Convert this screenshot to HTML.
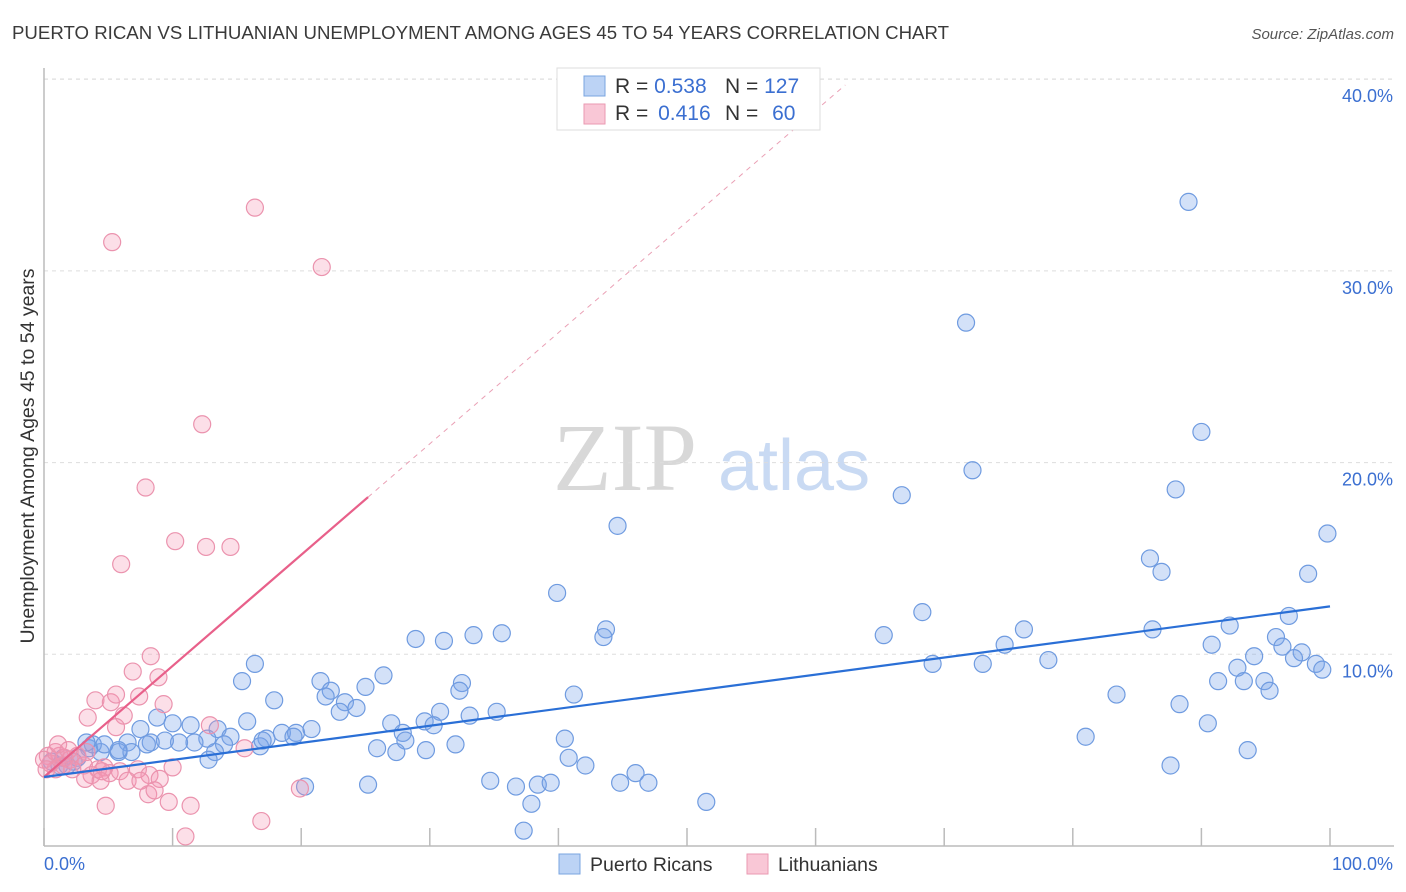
<!DOCTYPE html>
<html><head><meta charset="utf-8"><style>
body{margin:0;background:#fff;font-family:"Liberation Sans",sans-serif;}
svg{display:block}
</style></head><body>
<svg id="chart" width="1406" height="892" xmlns="http://www.w3.org/2000/svg">
<text x="12" y="39" font-size="18.6" fill="#3a3a3a" textLength="937" lengthAdjust="spacingAndGlyphs">PUERTO RICAN VS LITHUANIAN UNEMPLOYMENT AMONG AGES 45 TO 54 YEARS CORRELATION CHART</text>
<text x="1394" y="39" font-size="15" font-style="italic" fill="#555" text-anchor="end">Source: ZipAtlas.com</text>
<g>
<text x="553" y="490" font-family="Liberation Serif,serif" font-size="96" fill="#d8d8d8">ZIP</text>
<text x="718" y="490" font-size="72" fill="#c9daf3">atlas</text>
</g>
<g id="grid"></g>
<g id="axes"></g>
<g id="marks"></g>
<text transform="translate(34,456) rotate(-90)" font-size="19.5" fill="#333" text-anchor="middle">Unemployment Among Ages 45 to 54 years</text>
<g>
<rect x="557" y="68" width="263" height="62" fill="#fff" stroke="#ddd"/>
<rect x="584" y="76" width="21" height="20" fill="#bcd3f5" stroke="#7aa4e0"/>
<rect x="584" y="104" width="21" height="20" fill="#f9c7d6" stroke="#ea9ab2"/>
<text x="615" y="93" font-size="21" fill="#333">R = <tspan fill="#3b6fd1">0.538</tspan></text>
<text x="725" y="93" font-size="21" fill="#333">N = <tspan fill="#3b6fd1">127</tspan></text>
<text x="615" y="120" font-size="21" fill="#333">R = <tspan fill="#3b6fd1" dx="4">0.416</tspan></text>
<text x="725" y="120" font-size="21" fill="#333">N = <tspan fill="#3b6fd1" dx="8">60</tspan></text>
</g>
<g>
<rect x="559" y="854" width="21" height="20" fill="#bcd3f5" stroke="#7aa4e0"/>
<text x="590" y="871" font-size="19.5" fill="#333">Puerto Ricans</text>
<rect x="747" y="854" width="21" height="20" fill="#f9c7d6" stroke="#ea9ab2"/>
<text x="778" y="871" font-size="19.5" fill="#333">Lithuanians</text>
</g>
</svg>
<script>
const yTicks=[10,20,30,40];
const yTickLabels=["10.0%","20.0%","30.0%","40.0%"];
const xTicks=[0,10,20,30,40,50,60,70,80,90,100];
const blueX=[89.0,71.7,72.2,90.0,88.0,66.7,44.6,99.8,86.0,86.9,98.3,39.9,68.3,96.8,43.7,43.5,35.6,33.4,31.1,28.9,65.3,76.2,86.2,92.2,74.7,90.8,95.8,96.3,94.1,78.1,97.8,97.2,69.1,73.0,98.9,99.4,92.8,91.3,93.3,94.9,95.3,16.4,26.4,21.5,22.3,25.0,32.5,32.3,15.4,17.9,21.9,23.4,24.3,23.0,30.8,33.1,35.2,41.2,83.4,88.3,90.5,81.0,93.6,87.6,8.8,7.5,10.0,11.4,13.5,12.7,14.5,15.8,17.3,18.5,19.6,20.8,19.4,16.8,17.0,14.0,13.3,12.8,11.7,10.5,9.4,8.3,8.0,6.5,5.8,6.8,5.8,4.4,3.5,3.8,4.7,3.3,2.6,1.5,0.6,1.2,1.8,2.3,27.0,27.9,28.1,25.9,27.4,29.6,30.3,29.7,32.0,40.5,40.8,42.1,44.8,46.0,47.0,38.4,39.4,34.7,36.7,37.9,37.3,51.5,20.3,25.2];
const blueY=[33.6,27.3,19.6,21.6,18.6,18.3,16.7,16.3,15.0,14.3,14.2,13.2,12.2,12.0,11.3,10.9,11.1,11.0,10.7,10.8,11.0,11.3,11.3,11.5,10.5,10.5,10.9,10.4,9.9,9.7,10.1,9.8,9.5,9.5,9.5,9.2,9.3,8.6,8.6,8.6,8.1,9.5,8.9,8.6,8.1,8.3,8.5,8.1,8.6,7.6,7.8,7.5,7.2,7.0,7.0,6.8,7.0,7.9,7.9,7.4,6.4,5.7,5.0,4.2,6.7,6.1,6.4,6.3,6.1,5.6,5.7,6.5,5.6,5.9,5.9,6.1,5.7,5.2,5.5,5.3,4.9,4.5,5.4,5.4,5.5,5.4,5.3,5.4,4.9,4.9,5.0,4.9,5.1,5.3,5.3,5.4,4.6,4.6,4.4,4.2,4.2,4.4,6.4,5.9,5.5,5.1,4.9,6.5,6.3,5.0,5.3,5.6,4.6,4.2,3.3,3.8,3.3,3.2,3.3,3.4,3.1,2.2,0.8,2.3,3.1,3.2];
const pinkX=[16.4,5.3,21.6,12.3,7.9,10.2,12.6,14.5,6.0,8.3,6.9,8.9,9.3,4.0,5.2,5.6,7.4,3.4,6.2,12.9,5.6,15.6,1.2,0.3,0.5,0.9,1.5,2.0,2.6,3.1,3.7,4.2,4.7,5.1,5.9,7.3,8.2,9.0,10.0,8.1,8.6,4.8,9.7,11.4,19.9,16.9,11.0,3.2,4.4,4.5,1.6,2.2,0.0,0.9,3.3,6.5,7.5,1.1,0.2,1.9];
const pinkY=[33.3,31.5,30.2,22.0,18.7,15.9,15.6,15.6,14.7,9.9,9.1,8.8,7.4,7.6,7.5,7.9,7.8,6.7,6.8,6.3,6.2,5.1,4.7,4.7,4.3,4.0,4.2,4.5,4.7,4.2,3.7,4.0,4.1,3.8,3.9,4.0,3.7,3.5,4.1,2.7,2.9,2.1,2.3,2.1,3.0,1.3,0.5,3.5,3.4,3.9,4.6,4.0,4.5,4.9,4.9,3.4,3.4,5.3,4.0,5.0];
const blueTrend=[3.6,12.5];
const pinkTrend=[3.6,18.2,25.2];
const NS="http://www.w3.org/2000/svg";
const X0=44,X1=1330,Y0=846,YPER=19.17;
const sx=v=>X0+(X1-X0)*v/100;
const sy=v=>Y0-v*YPER;
function mk(tag,attrs,parent){const e=document.createElementNS(NS,tag);for(const k in attrs)e.setAttribute(k,attrs[k]);parent.appendChild(e);return e;}
const gridG=document.getElementById('grid'),axesG=document.getElementById('axes'),marksG=document.getElementById('marks');
yTicks.forEach((t,i)=>{
  const l=mk('line',{x1:X0,x2:1394,y1:sy(t),y2:sy(t),stroke:'#ddd','stroke-dasharray':'4,4'},gridG);
  
  
  const tx=mk('text',{x:1393,y:sy(t)+23,'font-size':18,fill:'#3b6fd1','text-anchor':'end'},axesG);
  tx.textContent=yTickLabels[i];
  
  
});
const topLine=mk('line',{x1:X0,x2:1394,y1:79,y2:79,stroke:'#ddd','stroke-dasharray':'4,4'},gridG);


const xa=mk('line',{x1:X0,x2:1394,y1:Y0,y2:Y0,stroke:'#bbb','stroke-width':1.5},axesG);


const ya=mk('line',{x1:X0,x2:X0,y1:68,y2:Y0,stroke:'#bbb','stroke-width':1.5},axesG);


xTicks.forEach(t=>{
  const l=mk('line',{x1:sx(t),x2:sx(t),y1:Y0-18,y2:Y0,stroke:'#bbb','stroke-width':1.5},axesG);
  
  
});
const xl0=mk('text',{x:44,y:870,'font-size':18,fill:'#3b6fd1'},axesG);xl0.textContent='0.0%';


const xl1=mk('text',{x:1393,y:870,'font-size':18,fill:'#3b6fd1','text-anchor':'end'},axesG);xl1.textContent='100.0%';


blueX.forEach((v,i)=>{
  const c=mk('circle',{cx:sx(v),cy:sy(blueY[i]),r:8.5,fill:'rgba(120,165,235,0.33)',stroke:'#6f9be0','stroke-width':1.2},marksG);
  
  
});
pinkX.forEach((v,i)=>{
  const c=mk('circle',{cx:sx(v),cy:sy(pinkY[i]),r:8.5,fill:'rgba(245,150,180,0.3)',stroke:'#eb93ae','stroke-width':1.2},marksG);
  
  
});
const slope=(pinkTrend[1]-pinkTrend[0])/pinkTrend[2];
const extX=(39.7-pinkTrend[0])/slope;
const pd=mk('line',{x1:sx(pinkTrend[2]),y1:sy(pinkTrend[1]),x2:sx(extX),y2:sy(39.7),stroke:'#eaa0b5','stroke-width':1,'stroke-dasharray':'5,5'},marksG);


const pl=mk('line',{x1:sx(0),y1:sy(pinkTrend[0]),x2:sx(pinkTrend[2]),y2:sy(pinkTrend[1]),stroke:'#e8608a','stroke-width':2.2},marksG);


const bl=mk('line',{x1:sx(0),y1:sy(blueTrend[0]),x2:sx(100),y2:sy(blueTrend[1]),stroke:'#2a6fd6','stroke-width':2.2},marksG);


</script>
</body></html>
